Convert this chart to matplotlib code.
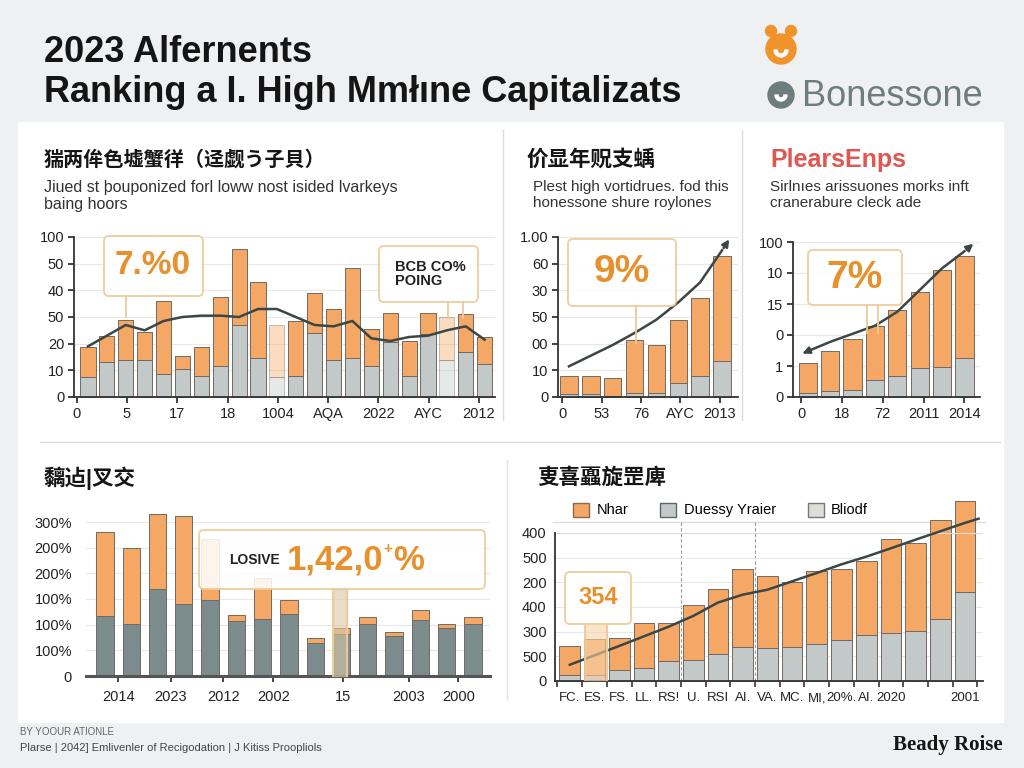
import numpy as np
import matplotlib
matplotlib.use('Agg')
import matplotlib.pyplot as plt
from matplotlib.patches import Rectangle, FancyBboxPatch, Circle, Wedge, Patch

plt.rcParams['font.family'] = ['Liberation Sans', 'Noto Sans CJK SC', 'DejaVu Sans']

W, H = 1024, 768
ORANGE = '#f5a866'
LGRAY = '#c3c9c9'
DGRAY = '#7c8c8d'
EDGE = '#6f6a64'
LINE = '#3b4645'
ACCENT = '#e8902c'
BOXEDGE = '#eccb98'

# top left panel
tl_total = [18.75, 23, 29, 24.5, 36, 15.25, 18.75, 37.5, 55.5, 43, 27, 28.5, 39, 33, 48.5, 25.5, 31.5, 21, 31.5, 30, 31, 22.5]
tl_base = [7.5, 13, 14, 14, 8.75, 10.5, 7.75, 11.5, 27, 14.75, 7.5, 7.75, 24, 13.75, 14.5, 11.5, 20.5, 7.75, 23.75, 14, 17, 12.5]
tl_line = [19, 23, 27, 25, 28.5, 30, 30.5, 30.5, 30, 33, 33, 30, 27, 26.5, 28.5, 22, 21, 22.5, 23, 25, 26.5, 21.5]
tl_yticks = ['0', '10', '20', '50', '40', '50', '100']
tl_xlabels = ['0', '5', '17', '18', '1004', 'AQA', '2022', 'AYC', '2012']

# top middle panel
tm_total = [7.75, 7.75, 7.1, 21.5, 19.6, 29, 37, 53]
tm_base = [1.25, 1.25, 0.5, 1.5, 1.5, 5.4, 7.9, 13.5]
tm_line = [11.5, 15.5, 19.5, 24, 29, 35.5, 43, 55]
tm_arrow_end = 60
tm_yticks = ['0', '10', '00', '50', '30', '60', '1.00']
tm_xlabels = ['0', '53', '76', 'AYC', '2013']

# top right panel
tr_total = [11, 15, 18.8, 23, 28, 34, 41, 45.4]
tr_base = [1.3, 2, 2.4, 5.4, 6.7, 9.5, 9.7, 12.7]
tr_line = [14.8, 17.8, 20.4, 23, 27.5, 34.5, 41.5, 47]
tr_arrow_start, tr_arrow_end = 13.7, 50
tr_yticks = ['0', '1', '0', '15', '10', '100']
tr_xlabels = ['0', '18', '72', '2011', '2014']

# bottom left panel
bl_total = [281, 250, 316, 312, 266, 119, 190, 148, 75, 93, 115, 85, 128, 101, 115]
bl_base = [117, 102, 170, 140, 148, 107, 112, 120, 64, 81, 102, 78, 109, 93, 101]
bl_yticks = ['0', '100%', '100%', '100%', '200%', '200%', '300%']
bl_xlabels = ['2014', '2023', '2012', '2002', '15', '2003', '2000']

# bottom right panel
br_total = [140, 169, 174, 235, 235, 308, 374, 455, 426, 401, 445, 455, 485, 574, 561, 651, 728]
br_base = [26, 26, 43, 54, 80, 84, 111, 138, 135, 138, 149, 165, 185, 196, 201, 253, 361]
br_line = [66, 104, 142, 181, 220, 264, 318, 350, 370, 404, 438, 473, 504, 538, 573, 607, 641]
br_line_end = 658
br_yticks = ['0', '500', '300', '400', '200', '500', '400']
br_xlabels = ['FC.', 'ES.', 'FS.', 'LL.', 'RS!', 'U.', 'RSI', 'AI.', 'VA.', 'MC.', 'MI,', '20%.', 'AI.', '2020', '', '', '2001']
br_legend = ['Nhar', 'Duessy Yraier', 'Bliodf']

fig = plt.figure(figsize=(W / 100, H / 100), dpi=100)
fig.patch.set_facecolor('#eef0f1')


def rect(x0, y0, x1, y1):
    return [x0 / W, 1 - y1 / H, (x1 - x0) / W, (y1 - y0) / H]


bg = fig.add_axes([0, 0, 1, 1], zorder=0)
bg.set_xlim(0, W); bg.set_ylim(H, 0); bg.axis('off')
bg.add_patch(Rectangle((18, 122), 985, 600, color='white'))
for xx in (503, 742):
    bg.plot([xx, xx], [130, 420], color='#dcdcdc', lw=1)
bg.plot([40, 1000], [442, 442], color='#dcdcdc', lw=1)
bg.plot([507, 507], [460, 700], color='#e4e4e4', lw=1)

ov = fig.add_axes([0, 0, 1, 1], zorder=5)
ov.set_xlim(0, W); ov.set_ylim(H, 0); ov.axis('off')


def chart(px, ylim, ylabels, xlim):
    ax = fig.add_axes(rect(*px), zorder=2)
    ax.set_facecolor('none')
    ax.set_xlim(*xlim); ax.set_ylim(*ylim)
    ax.spines[['top', 'right']].set_visible(False)
    ax.spines[['left', 'bottom']].set_color('#333')
    ax.spines[['left', 'bottom']].set_linewidth(1.3)
    ax.set_yticks(np.linspace(ylim[0], ylim[1], len(ylabels)), ylabels)
    ax.tick_params(labelsize=10.5, colors='#222', length=4, width=1.2, pad=3)
    ax.grid(axis='y', color='#e8e8e8', lw=0.8)
    ax.set_axisbelow(True)
    return ax


def stacked(ax, total, base, width, c_top, c_base, faded=()):
    x = np.arange(len(total))
    total = np.array(total, float); base = np.array(base, float)
    b1 = ax.bar(x, base, width, color=c_base, edgecolor=EDGE, lw=0.7, clip_on=False)
    b2 = ax.bar(x, total - base, width, bottom=base, color=c_top, edgecolor=EDGE, lw=0.7, clip_on=False)
    for i in faded:
        b1[i].set_alpha(0.4); b2[i].set_alpha(0.4)
    return x


def callout(x0, y0, x1, y1, tails):
    ov.add_patch(FancyBboxPatch((x0, y0), x1 - x0, y1 - y0, boxstyle='round,pad=0,rounding_size=5',
                                fc='white', ec=BOXEDGE, lw=1.4, alpha=0.88))
    for tx, ty in tails:
        ov.plot([tx, tx], [y1, ty], color=BOXEDGE, lw=1.3)


# ---- header ----
ov.text(44, 52, '2023 Alfernents', fontsize=26, weight='bold', va='center', color='#151515')
ov.text(44, 93, 'Ranking a I. High Mmłıne Capitalizats', fontsize=26, weight='bold', va='center', color='#151515')
ov.add_patch(Circle((771, 31), 5.5, color='#f0932b'))
ov.add_patch(Circle((791, 31), 5.5, color='#f0932b'))
ov.add_patch(Circle((781, 49), 15, color='#f0932b'))
ov.add_patch(Wedge((781, 50), 7, 0, 180, width=3, color='white'))
ov.add_patch(Circle((781, 95), 13, color='#6d7c7d'))
ov.add_patch(Wedge((781, 95), 6, 0, 180, width=3, color='white'))
ov.text(802, 96, 'Bonessone', fontsize=26, va='center', color='#6d7c7d')

# ---- top left ----
ov.text(44, 160, '猯两侔色墟蟹徉（迳觑う子貝）', fontsize=14.5, weight='bold', va='center', color='#151515')
ov.text(44, 180, 'Jiued st þouponized forl loww nost isided lvarkeys\nbaing hoors', fontsize=11.5,
        va='top', color='#333', linespacing=1.2)
ax1 = chart((74, 237, 495, 397), (0, 60), tl_yticks, (-0.74, 21.55))
x = stacked(ax1, tl_total, tl_base, 0.8, ORANGE, LGRAY, faded=(10, 19))
ax1.plot(x, tl_line, color=LINE, lw=1.8)
ax1.set_xticks(np.linspace(-0.6, 20.7, 9), tl_xlabels)
callout(104, 236, 203, 296, [(126, 317)])
ov.text(153, 266, '7.%0', fontsize=24, weight='bold', color=ACCENT, ha='center', va='center')
callout(379, 246, 478, 302, [(448, 318), (463, 318)])
ov.text(395, 274, 'BCB CO%\nPOING', fontsize=10.5, weight='bold', color='#222', va='center', linespacing=1.0)

# ---- top middle ----
ov.text(527, 160, '价显年贶支蝺', fontsize=15.5, weight='bold', va='center', color='#151515')
ov.text(533, 180, 'Plest high vortidrues. fod this\nhonessone shure roylones', fontsize=11,
        va='top', color='#333', linespacing=1.15)
ax2 = chart((558, 237, 738, 397), (0, 60), tm_yticks, (-0.5, 7.73))
x = stacked(ax2, tm_total, tm_base, 0.8, ORANGE, LGRAY)
ax2.plot(x, tm_line, color=LINE, lw=1.8)
ax2.annotate('', xy=(7.4, tm_arrow_end), xytext=(x[-1], tm_line[-1]),
             arrowprops=dict(arrowstyle='-|>', color=LINE, lw=1.8, mutation_scale=10))
ax2.set_xticks(np.linspace(-0.3, 6.9, 5), tm_xlabels)
callout(568, 239, 676, 306, [(636, 343)])
ov.text(622, 272, '9%', fontsize=28, weight='bold', color=ACCENT, ha='center', va='center')

# ---- top right ----
ov.text(770, 160, 'PlearsEnps', fontsize=18, weight='bold', va='center', color='#e05752')
ov.text(770, 180, 'Sirlnıes arissuones morks inft\ncranerabure cleck ade', fontsize=11,
        va='top', color='#333', linespacing=1.15)
ax3 = chart((793, 242, 980, 397), (0, 50), tr_yticks, (-0.67, 7.7))
x = stacked(ax3, tr_total, tr_base, 0.82, ORANGE, LGRAY)
ax3.plot(x, tr_line, color=LINE, lw=1.8)
ax3.annotate('', xy=(-0.36, tr_arrow_start), xytext=(x[0], tr_line[0]),
             arrowprops=dict(arrowstyle='-|>', color=LINE, lw=1.8, mutation_scale=10))
ax3.annotate('', xy=(7.5, tr_arrow_end), xytext=(x[-1], tr_line[-1]),
             arrowprops=dict(arrowstyle='-|>', color=LINE, lw=1.8, mutation_scale=10))
ax3.set_xticks(np.linspace(-0.3, 7.0, 5), tr_xlabels)
callout(808, 250, 902, 305, [(867, 333), (878, 333)])
ov.text(855, 278, '7%', fontsize=28, weight='bold', color=ACCENT, ha='center', va='center')

# ---- bottom left ----
ov.text(44, 478, '黐迠|叉交', fontsize=15.5, weight='bold', va='center', color='#151515')
ax4 = chart((86, 522, 490, 676), (0, 300), bl_yticks, (-0.72, 14.65))
ax4.spines['left'].set_visible(False)
ax4.spines['bottom'].set_color('#555')
ax4.spines['bottom'].set_linewidth(2.2)
ax4.tick_params(axis='y', length=0, pad=10)
x = stacked(ax4, bl_total, bl_base, 0.66, ORANGE, DGRAY)
ax4.set_xticks([0.5, 2.5, 4.5, 6.4, 9.05, 11.55, 13.45], bl_xlabels)
ax4.tick_params(axis='x', pad=6)
callout(199, 530, 485, 589, [(333, 676), (347, 676)])
ov.add_patch(Rectangle((333, 589), 14, 87, color='#d9c7a6', alpha=0.6))
ov.text(229, 560, 'LOSIVE', fontsize=10, weight='bold', color='#222', va='center')
ov.text(287, 560, '1,42,0', fontsize=25, weight='bold', color=ACCENT, va='center')
ov.text(383, 549, '+', fontsize=11, weight='bold', color=ACCENT, va='center')
ov.text(393, 560, '%', fontsize=25, weight='bold', color=ACCENT, va='center')

# ---- bottom right ----
ov.text(537, 478, '叓喜蠠旋罡庳', fontsize=15.5, weight='bold', va='center', color='#151515')
ax5 = chart((555, 533, 983, 681), (0, 600), br_yticks, (-0.6, 16.73))
ax5.tick_params(axis='y', length=0, pad=6)
ax5.axhline(600, color='#dddddd', lw=0.8)
x = stacked(ax5, br_total, br_base, 0.84, ORANGE, LGRAY)
ax5.plot(np.append(x, 16.55), np.append(br_line, br_line_end), color=LINE, lw=1.8, clip_on=False)
for xv in (4.5, 7.5):
    ax5.axvline(xv, ymax=1.08, color='#999', lw=0.8, ls=(0, (3, 2)), clip_on=False, zorder=0)
ax5.set_xticks(x, br_xlabels)
ax5.set_xticks(np.arange(-0.5, 17, 1), minor=True)
ax5.tick_params(axis='x', which='major', length=0, pad=8, labelsize=9.5)
ax5.tick_params(axis='x', which='minor', length=4, width=1.2, color='#333')
bg.plot([553, 985], [522, 522], color='#dddddd', lw=1)
handles = [Patch(fc=ORANGE, ec='#8a6a4a'), Patch(fc=LGRAY, ec='#5a6a6a'), Patch(fc='#deded8', ec='#777')]
fig.legend(handles, br_legend, loc='center left', bbox_to_anchor=(560 / W, 1 - 510 / H), ncol=3,
           frameon=False, fontsize=10.5, handlelength=1.1, handleheight=1.1, columnspacing=2.2,
           handletextpad=0.5)
callout(565, 572, 631, 624, [(585, 680), (607, 680)])
ov.add_patch(Rectangle((585, 624), 22, 56, color='#f7d2a8', alpha=0.6))
ov.text(598, 597, '354', fontsize=17, weight='bold', color=ACCENT, ha='center', va='center')

# ---- footer ----
ov.text(20, 732, 'BY YOOUR ATIONLE', fontsize=7, color='#666', va='center')
ov.text(20, 748, 'Plarse | 2042] Emlivenler of Recigodation | J Kitiss Proopliols', fontsize=8,
        color='#444', va='center')
ov.text(1003, 745, 'Beady Roise', family='Liberation Serif', weight='bold', fontsize=15,
        ha='right', va='center', color='#151515')

fig.savefig('out.png', dpi=100, facecolor=fig.get_facecolor())
